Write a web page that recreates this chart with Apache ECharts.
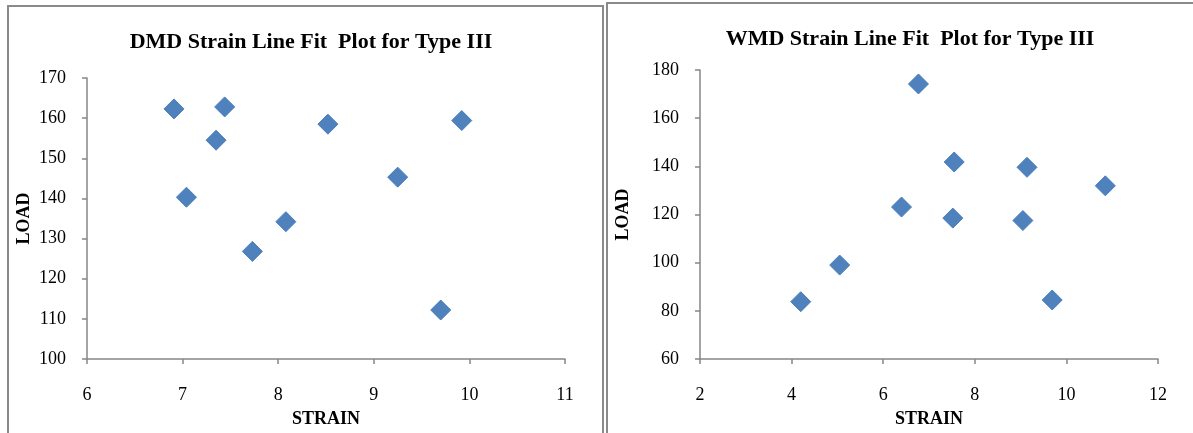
<!DOCTYPE html>
<html>
<head>
<meta charset="utf-8">
<script src="https://cdn.jsdelivr.net/npm/echarts@6/dist/echarts.min.js"></script>
<style>
  html, body { margin: 0; padding: 0; background: #fff; }
  #chart { width: 1193px; height: 433px; }
</style>
</head>
<body>
<div id="chart"></div>
<script>
// ---- data ----
const dmdTitle = 'DMD Strain Line Fit  Plot for Type III';
const wmdTitle = 'WMD Strain Line Fit  Plot for Type III';
const xName = 'STRAIN';
const yName = 'LOAD';
const dmdStrain = [6.91, 7.04, 7.35, 7.44, 7.73, 8.08, 8.52, 9.25, 9.70, 9.92];
const dmdLoad   = [162.3, 140.3, 154.5, 162.8, 126.8, 134.2, 158.5, 145.3, 112.2, 159.4];
const wmdStrain = [4.20, 5.05, 6.40, 6.77, 7.52, 7.55, 9.05, 9.14, 9.69, 10.85];
const wmdLoad   = [83.8, 99.0, 123.1, 174.2, 118.5, 141.8, 117.5, 139.6, 84.5, 131.9];
const dmdXRange = [6, 11, 1];
const dmdYRange = [100, 170, 10];
const wmdXRange = [2, 12, 2];
const wmdYRange = [60, 180, 20];

const FONT = '"Liberation Serif", "Times New Roman", serif';
const AXIS_COLOR = '#868686';
const MARK = '#4F81BD';

function pairs(xs, ys) { return xs.map((x, i) => [x, ys[i]]); }

function xAxis(idx, r) {
  return {
    type: 'value', gridIndex: idx, min: r[0], max: r[1], interval: r[2],
    name: xName, nameLocation: 'middle', nameGap: 51,
    nameTextStyle: { fontFamily: FONT, fontWeight: 'bold', fontSize: 18, color: '#000' },
    axisLine: { show: true, lineStyle: { color: AXIS_COLOR, width: 1.5 } },
    axisTick: { show: true, inside: false, length: 5, lineStyle: { color: AXIS_COLOR, width: 1.5 } },
    axisLabel: { fontFamily: FONT, fontSize: 18, color: '#000', margin: 27 },
    splitLine: { show: false }
  };
}
function yAxis(idx, r, gap) {
  return {
    type: 'value', gridIndex: idx, min: r[0], max: r[1], interval: r[2],
    name: yName, nameLocation: 'middle', nameGap: gap, nameRotate: 90,
    nameTextStyle: { fontFamily: FONT, fontWeight: 'bold', fontSize: 18, color: '#000' },
    axisLine: { show: true, lineStyle: { color: AXIS_COLOR, width: 1.5 } },
    axisTick: { show: true, inside: false, length: 5, lineStyle: { color: AXIS_COLOR, width: 1.5 } },
    axisLabel: { fontFamily: FONT, fontSize: 18, color: '#000', margin: 21 },
    splitLine: { show: false }
  };
}
function scatter(idx, data) {
  return {
    type: 'scatter', xAxisIndex: idx, yAxisIndex: idx, data: data,
    symbol: 'diamond', symbolSize: 20,
    itemStyle: { color: MARK, borderColor: '#4A7EBB', borderWidth: 1, opacity: 1 },
    emphasis: { disabled: true }, silent: true
  };
}

const chart = echarts.init(document.getElementById('chart'), null, { renderer: 'canvas' });
chart.setOption({
  animation: false,
  backgroundColor: '#fff',
  title: [
    { text: dmdTitle, left: 306, top: 26, textAlign: 'center',
      textStyle: { fontFamily: FONT, fontWeight: 'bold', fontSize: 22, color: '#000' } },
    { text: wmdTitle, left: 905, top: 23, textAlign: 'center',
      textStyle: { fontFamily: FONT, fontWeight: 'bold', fontSize: 22, color: '#000' } }
  ],
  grid: [
    { left: 87, top: 78, width: 478, height: 287 },
    { left: 700, top: 70, width: 458, height: 296 }
  ],
  xAxis: [xAxis(0, dmdXRange), xAxis(1, wmdXRange)],
  yAxis: [yAxis(0, dmdYRange, 54), yAxis(1, wmdYRange, 68)],
  series: [scatter(0, pairs(dmdStrain, dmdLoad)), scatter(1, pairs(wmdStrain, wmdLoad))],
  graphic: [
    { type: 'rect', shape: { x: 8, y: 6, width: 595, height: 440 }, silent: true, z: -1,
      style: { fill: null, stroke: '#8a8a8a', lineWidth: 2 } },
    { type: 'rect', shape: { x: 607, y: 3, width: 600, height: 450 }, silent: true, z: -1,
      style: { fill: null, stroke: '#8a8a8a', lineWidth: 2 } }
  ]
});
</script>
</body>
</html>
